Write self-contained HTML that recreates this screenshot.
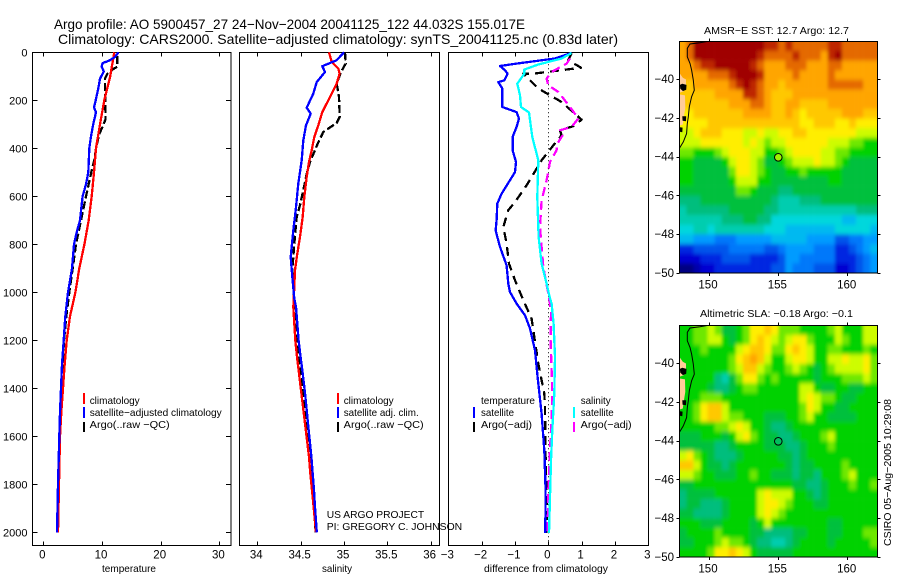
<!DOCTYPE html>
<html>
<head>
<meta charset="utf-8">
<title>Argo profile AO 5900457_27</title>
<style>
html,body{margin:0;padding:0;background:#fff;}
svg{display:block;}
text{font-family:"Liberation Sans",sans-serif;fill:#000;}
</style>
</head>
<body>
<svg id="fig" xmlns="http://www.w3.org/2000/svg" width="900" height="580" viewBox="0 0 900 580">
<defs>
<filter id="cell-smooth" filterUnits="userSpaceOnUse" x="660" y="20" width="240" height="560"><feGaussianBlur stdDeviation="1.7 2.2"/></filter>
<clipPath id="clip-sst"><rect x="679.3" y="41.3" width="198" height="231.7"/></clipPath>
<clipPath id="clip-sla"><rect x="679.3" y="325.3" width="198" height="231.7"/></clipPath>
</defs>
<rect width="900" height="580" fill="#fff"/>
<text x="54" y="29" font-size="14" textLength="471" lengthAdjust="spacingAndGlyphs">Argo profile: AO 5900457_27 24−Nov−2004 20041125_122 44.032S 155.017E</text>
<text x="58" y="44" font-size="14" textLength="560" lengthAdjust="spacingAndGlyphs">Climatology: CARS2000. Satellite−adjusted climatology: synTS_20041125.nc (0.83d later)</text>
<g id="layer-maps"></g>
<g id="layer-panels"></g>

<text x="102" y="572" font-size="10.5" textLength="54" lengthAdjust="spacingAndGlyphs">temperature</text>
<text x="322" y="572" font-size="10.5" textLength="30" lengthAdjust="spacingAndGlyphs">salinity</text>
<text x="484" y="572" font-size="10.5" textLength="124" lengthAdjust="spacingAndGlyphs">difference from climatology</text>

<g>
<rect x="83" y="393" width="2" height="11" fill="#f00"/>
<rect x="83" y="407" width="2" height="11" fill="#00f"/>
<rect x="83" y="422" width="2" height="10" fill="#000"/>
<text x="89.7" y="404" font-size="10.5" textLength="50" lengthAdjust="spacingAndGlyphs">climatology</text>
<text x="89.7" y="416" font-size="10.5" textLength="132" lengthAdjust="spacingAndGlyphs">satellite−adjusted climatology</text>
<text x="89.7" y="428" font-size="10.5" textLength="80" lengthAdjust="spacingAndGlyphs">Argo(..raw −QC)</text>
</g>

<g>
<rect x="337" y="393" width="2" height="11" fill="#f00"/>
<rect x="337" y="407" width="2" height="11" fill="#00f"/>
<rect x="337" y="422" width="2" height="10" fill="#000"/>
<text x="343.7" y="404" font-size="10.5" textLength="50" lengthAdjust="spacingAndGlyphs">climatology</text>
<text x="343.7" y="416" font-size="10.5" textLength="75" lengthAdjust="spacingAndGlyphs">satellite adj. clim.</text>
<text x="343.7" y="428" font-size="10.5" textLength="80" lengthAdjust="spacingAndGlyphs">Argo(..raw −QC)</text>
</g>

<text x="326.7" y="518" font-size="10.5" textLength="97.5" lengthAdjust="spacingAndGlyphs">US ARGO PROJECT</text>
<text x="326.7" y="530" font-size="10.5" textLength="135.5" lengthAdjust="spacingAndGlyphs">PI: GREGORY C. JOHNSON</text>

<g>
<text x="481" y="404" font-size="10.5" textLength="54" lengthAdjust="spacingAndGlyphs">temperature</text>
<rect x="473" y="407" width="2" height="11" fill="#00f"/>
<text x="481" y="416" font-size="10.5" textLength="33" lengthAdjust="spacingAndGlyphs">satellite</text>
<rect x="473" y="422" width="2" height="10" fill="#000"/>
<text x="481" y="428" font-size="10.5" textLength="51" lengthAdjust="spacingAndGlyphs">Argo(−adj)</text>
<text x="580.7" y="404" font-size="10.5" textLength="30" lengthAdjust="spacingAndGlyphs">salinity</text>
<rect x="573" y="407" width="2" height="11" fill="#0ff"/>
<text x="580.7" y="416" font-size="10.5" textLength="33" lengthAdjust="spacingAndGlyphs">satellite</text>
<rect x="573" y="422" width="2" height="10" fill="#f0f"/>
<text x="580.7" y="428" font-size="10.5" textLength="51" lengthAdjust="spacingAndGlyphs">Argo(−adj)</text>
</g>

<text x="704" y="34" font-size="10.5" textLength="145" lengthAdjust="spacingAndGlyphs">AMSR−E SST: 12.7 Argo: 12.7</text>
<text x="700" y="317" font-size="10.5" textLength="153" lengthAdjust="spacingAndGlyphs">Altimetric SLA: −0.18 Argo: −0.1</text>
<text transform="translate(891,546) rotate(-90)" font-size="10.5" textLength="147" lengthAdjust="spacingAndGlyphs">CSIRO 05−Aug−2005 10:29:08</text>
</svg>

<script>
var depthTicks = [0,200,400,600,800,1000,1200,1400,1600,1800,2000];
var tempTicks = [0,10,20,30];
var salTicks = [34,34.5,35,35.5,36];
var salTickLabels = ['34','34.5','35','35.5','36'];
var diffTicks = [-3,-2,-1,0,1,2,3];
var lonTicks = [150,155,160];
var latTicks = [-40,-42,-44,-46,-48,-50];

var tempClimDepth = [0,100,200,300,400,500,600,700,800,900,1000,1100,1200,1300,1400,1500,1600,1800,2000];
var tempClimValue = [12.1,11.4,10.4,9.66,8.98,8.64,8.24,7.73,7.0,6.14,5.46,4.55,3.98,3.64,3.36,3.07,2.85,2.67,2.5];
var tempSatDepth = [0,20,35,45,60,80,110,150,200,230,250,300,350,400,500,550,600,700,750,800,900,1000,1100,1200,1300,1400,1500,1600,1800,2000];
var tempSatValue = [12.8,12.2,11.2,10.1,9.95,10.3,9.66,9.37,8.92,8.64,8.98,8.5,8.13,7.84,7.67,7.27,6.7,6.25,5.69,5.23,4.89,4.2,3.75,3.47,3.19,3.02,2.84,2.73,2.5,2.33];
var tempArgoDepth = [15,60,70,90,110,200,280,310,340,400,450,500,600,700,800,900,1000,1100,1200,1400,1600,1800,2000];
var tempArgoValue = [12.6,12.6,11.9,10.9,10.5,10.56,10.6,10.1,9.54,8.98,8.69,8.18,7.27,6.42,5.57,5.0,4.43,3.92,3.53,3.07,2.73,2.62,2.45];

var salClimDepth = [0,40,68,89,130,200,249,304,353,408,457,519,603,686,769,839,908,978,1061,1130,1200,1269,1338,1408,1477,1547,1616,1686,1755,1825,1894,2000];
var salClimValue = [34.827,34.858,34.935,34.95,34.916,34.819,34.75,34.704,34.658,34.628,34.597,34.57,34.542,34.524,34.493,34.462,34.435,34.427,34.415,34.427,34.439,34.458,34.481,34.504,34.527,34.55,34.573,34.596,34.612,34.631,34.65,34.677];
var salSatDepth = [0,33,58,82,124,172,231,256,304,367,450,547,658,742,853,936,1026,1061,1130,1200,1269,1338,1408,1477,1547,1616,1686,1755,1825,1894,2000];
var salSatValue = [35.0,34.916,34.75,34.781,34.685,34.646,34.57,34.616,34.562,34.531,34.512,34.473,34.443,34.415,34.385,34.404,34.427,34.447,34.462,34.477,34.5,34.524,34.547,34.566,34.585,34.605,34.624,34.639,34.654,34.666,34.686];
var salArgoDepth = [0,47,82,130,186,269,294,332,381,457,506,575,637,686,797,908,1019,1130,1269,1408,1547,1686,1825,2000];
var salArgoValue = [35.012,35.02,34.966,34.916,34.943,34.951,34.916,34.762,34.697,34.608,34.57,34.531,34.493,34.455,34.427,34.404,34.423,34.439,34.481,34.527,34.57,34.608,34.643,34.673];

var diffTempSatDepth = [3,26,47,57,75,89,117,124,151,228,249,276,311,353,408,457,499,589,631,700,742,811,888,964,999,1047,1096,1151,1242,1353,1505,1658,1825,2003];
var diffTempSatValue = [0.7,0.2,-0.95,-1.45,-1.3,-1.22,-1.32,-1.5,-1.38,-1.38,-0.95,-0.88,-0.95,-1.07,-1.07,-0.97,-1.0,-1.4,-1.53,-1.55,-1.58,-1.45,-1.25,-1.2,-1.15,-0.95,-0.7,-0.55,-0.4,-0.32,-0.2,-0.12,-0.08,-0.09];
var diffSalSatDepth = [3,26,51,72,89,131,179,228,251,353,450,603,769,881,964,1026,1047,1131,1269,1422,1575,1700,1853,2003];
var diffSalSatValue = [0.7,0.4,-0.3,-0.72,-0.72,-0.93,-0.85,-0.82,-0.58,-0.48,-0.3,-0.33,-0.29,-0.2,-0.05,0.05,0.1,0.16,0.2,0.18,0.12,0.08,0.05,0.02];
var diffTempArgoDepth = [3,33,64,89,89,151,207,281,308,325,346,388,450,554,624,658,728,797,881,950,1033,1110,1186,1297,1422,1478,1686,1936,2003];
var diffTempArgoValue = [0.7,0.6,0.98,-0.45,-0.75,-0.3,0.4,1.0,0.75,0.35,0.4,0.15,-0.2,-0.65,-1.0,-1.2,-1.35,-1.25,-1.18,-1.0,-0.75,-0.5,-0.42,-0.3,-0.12,-0.1,-0.08,-0.04,-0.06];
var diffSalArgoDepth = [26,47,82,110,138,165,228,276,311,325,346,381,408,457,533,617,728,811,894,1006,1075,1200,1325,1436,1575,1686,1825,2003];
var diffSalArgoValue = [0.65,0.55,0.1,-0.05,0,0.3,0.65,0.9,0.7,0.35,0.43,0.27,0.25,0.05,-0.05,-0.2,-0.25,-0.2,-0.15,0,0.08,0.07,0.1,0.12,0.08,0.04,0,-0.02];

var sstGrid = [
[17,18,20,20,20,20,20,20,20,20,20,20,19,19,18,19,18,18,18,18,18,19,19,18,18,18,18,18],
[17,18,20,20,20,20,20,20,20,20,20,19,18,18,18,18,19,18,18,18,17,19,20,18,18,18,18,18],
[17,17,18,19,19,20,20,20,20,20,19,18,17,17,17,18,18,18,17,17,17,18,18,17,17,17,17,17],
[17,17,17,17,18,18,18,19,20,20,20,19,17,17,17,17,18,17,17,17,17,18,17,17,17,17,17,17],
[16,16,17,17,17,17,17,18,19,20,19,18,17,17,16,17,17,17,17,17,17,18,18,18,18,18,17,17],
[16,16,16,16,16,17,17,17,17,19,19,18,17,16,16,16,17,17,17,17,17,17,17,17,17,17,17,17],
[16,16,16,16,16,16,16,17,17,17,18,18,17,16,16,17,17,16,16,16,16,17,17,17,17,17,17,17],
[15,15,16,16,16,16,16,16,16,17,17,17,17,16,16,17,16,15,16,16,16,16,16,17,17,17,16,16],
[15,15,15,15,16,16,16,16,16,16,16,16,16,16,16,16,16,15,15,16,16,16,15,15,16,15,15,15],
[14,14,15,16,16,16,15,15,15,14,14,15,14,14,15,15,16,16,15,15,15,15,15,15,15,14,14,14],
[14,14,14,15,15,15,15,15,15,14,15,14,13,14,14,15,15,15,15,15,15,14,14,14,13,13,12,12],
[13,13,12,12,12,13,14,15,15,15,14,14,12,12,13,14,15,15,15,15,14,14,13,13,12,12,12,12],
[12,12,11,11,11,11,12,14,15,15,14,13,11,11,12,13,14,14,14,15,14,14,13,12,11,11,11,11],
[12,12,11,11,11,11,11,13,15,15,14,13,12,11,11,12,12,13,12,12,12,12,12,11,11,11,11,11],
[12,12,11,11,11,11,11,12,14,14,14,12,12,11,11,11,11,11,11,11,11,12,12,11,11,11,11,11],
[11,11,11,11,11,11,11,11,13,13,12,11,11,11,10,10,11,11,11,11,11,11,11,11,11,11,11,11],
[10,10,10,11,11,11,11,11,11,11,11,11,11,10,9,9,9,10,10,10,11,11,11,11,11,11,11,11],
[9,10,10,10,10,10,10,11,11,11,11,11,10,10,9,9,9,9,9,9,9,9,9,9,9,10,10,10],
[9,9,9,9,9,9,10,10,10,11,11,10,10,8,8,8,8,8,8,8,8,8,8,7,7,8,8,8],
[8,8,9,9,8,9,9,9,9,9,9,9,8,8,8,7,7,7,7,7,7,7,8,8,8,8,8,7],
[7,7,6,6,6,5,5,5,6,6,6,6,6,7,7,7,7,7,6,6,6,6,4,4,5,5,6,6],
[3,3,4,4,4,4,4,5,5,5,5,5,4,4,5,6,6,6,6,5,5,5,3,3,4,5,6,7],
[2,2,2,3,3,3,4,4,4,4,3,3,3,3,4,6,6,5,5,5,5,5,3,3,3,4,5,6],
[0,0,1,2,2,3,3,3,3,3,3,3,3,4,4,6,5,5,5,4,4,4,2,2,3,4,5,6]
];
var slaGrid = [
[12,12,13,13,14,13,11,11,12,13,15,15,16,15,13,13,13,12,12,12,12,13,14,12,12,12,14,14],
[12,12,13,13,14,14,12,11,12,13,15,16,15,14,13,14,15,15,13,12,12,12,14,13,12,12,14,14],
[12,12,12,13,12,12,12,12,14,15,16,16,15,13,13,15,16,15,14,12,12,13,13,12,12,12,13,12],
[12,12,12,12,12,12,12,13,15,16,17,16,14,12,12,14,15,15,14,12,12,14,14,15,14,14,15,13],
[12,12,12,12,12,12,12,13,14,16,16,14,13,12,12,13,14,13,12,11,12,13,14,14,14,14,15,13],
[12,12,12,12,12,10,9,11,13,15,15,13,12,13,12,12,12,12,12,11,12,12,12,13,13,13,14,13],
[12,12,12,12,11,10,10,11,12,13,13,12,12,12,12,12,12,14,14,12,11,11,12,12,11,11,12,12],
[12,12,12,13,13,13,12,12,12,12,12,12,12,12,12,12,12,14,15,14,13,13,12,11,11,12,12,12],
[12,12,13,15,16,16,14,12,12,12,12,12,12,12,12,12,12,13,15,14,12,12,11,11,12,12,12,12],
[12,12,13,15,16,16,14,13,13,12,12,12,11,11,11,12,12,13,14,12,12,11,11,11,11,12,12,12],
[12,12,12,12,12,13,13,14,15,14,12,12,11,10,10,11,12,12,12,12,12,12,12,12,12,12,12,12],
[11,11,11,12,12,12,11,12,14,15,13,12,11,11,10,10,11,12,12,12,13,14,12,12,12,12,12,12],
[11,11,11,11,11,10,10,11,12,12,12,12,11,11,11,10,10,11,12,12,12,13,12,12,12,12,12,12],
[14,15,13,12,11,10,10,10,11,12,12,12,12,12,11,11,10,11,12,12,12,12,12,12,12,12,12,12],
[16,16,14,12,11,11,10,11,12,12,12,12,12,12,12,11,10,11,11,12,12,12,12,13,12,12,12,12],
[14,14,13,12,12,11,11,11,12,12,13,12,12,11,11,11,10,11,11,10,12,12,12,13,14,12,12,12],
[11,11,12,12,12,12,12,12,12,12,12,12,12,12,12,12,11,11,10,10,11,12,12,12,13,12,12,13],
[10,11,11,11,11,12,12,12,12,12,12,14,15,14,14,14,12,12,11,10,11,12,12,12,12,12,12,12],
[10,11,11,10,10,10,11,12,12,12,12,14,15,15,14,13,12,12,12,11,11,12,12,12,12,12,12,12],
[11,11,10,10,10,10,11,12,12,12,12,14,15,14,13,12,12,12,12,12,12,12,12,12,12,12,12,12],
[12,12,12,11,11,11,12,12,12,12,11,12,14,12,12,12,12,12,12,12,12,11,11,12,12,12,12,12],
[11,12,12,12,12,13,12,12,12,12,11,11,10,10,10,10,11,11,12,12,12,11,11,12,12,12,13,13],
[11,11,12,12,12,13,14,13,13,12,11,10,10,9,9,10,11,12,12,12,12,11,12,12,12,12,12,13],
[12,12,12,12,13,15,15,16,15,14,12,11,11,11,11,11,12,12,12,12,12,12,12,12,12,12,12,12]
];
var coastLon = [149.97,149.37,148.65,148.46,148.46,148.65,148.77,148.89,148.96,148.77,148.6,148.53,148.46,148.41,148.17,147.88];
var coastLat = [-38.05,-38.12,-38.19,-38.41,-38.85,-39.19,-39.53,-40.05,-40.57,-40.91,-41.43,-41.95,-42.29,-42.81,-43.24,-43.58];
var landNorthLon = [147.88,148.13,148.36,148.36,148.22,147.88];
var landNorthLat = [-39.67,-39.93,-40.02,-40.36,-40.62,-40.71];
var landSouthLon = [147.88,148.29,148.31,148.22,148.13,147.88];
var landSouthLat = [-40.79,-40.84,-41.48,-41.91,-42.34,-42.4];
var rockALon = [147.92,148.1,148.4,148.38,148.15,147.95];
var rockALat = [-40.3,-40.24,-40.3,-40.55,-40.62,-40.5];
var rockBLon = [148.1,148.38,148.36,148.12];
var rockBLat = [-41.92,-41.92,-42.17,-42.15];
var rockCLon = [147.92,148.12,148.1,147.92];
var rockCLat = [-42.48,-42.5,-42.74,-42.72];
var floatLon = 155.017;
var floatLat = -44.032;

var SVGNS = 'http://www.w3.org/2000/svg';
var panelTop = 52.3, panelBottom = 545.3;
function yDepth(d){ return 52.3 + d * 0.24; }
function xTemp(t){ return 43.3 + t * 5.87; }
function xSal(s){ return 257.3 + (s - 34) * 86.67; }
function xDiff(v){ return 548.3 + v * 33.33; }

var palette = [[0,0,130],[0,0,170],[0,0,210],[0,40,225],[0,85,235],[0,120,250],[0,155,255],[0,185,240],[0,215,220],[0,205,175],[0,190,125],[0,192,60],[0,210,0],[110,232,0],[205,252,0],[255,238,0],[255,200,0],[255,165,0],[228,105,0],[190,40,0],[160,0,0]];
function levelColor(v){
  var i = Math.max(0, Math.min(palette.length - 1, Math.floor(v)));
  var j = Math.min(palette.length - 1, i + 1);
  var f = Math.max(0, Math.min(1, v - i));
  var c = [0,1,2].map(function(k){ return Math.round(palette[i][k] + (palette[j][k] - palette[i][k]) * f); });
  return 'rgb(' + c.join(',') + ')';
}

function mk(parent, tag, attrs){
  var el = document.createElementNS(SVGNS, tag);
  for (var k in attrs) el.setAttribute(k, attrs[k]);
  parent.appendChild(el);
  return el;
}

function polyPoints(xs, ys, fx, fy){
  var pts = [];
  for (var i = 0; i < xs.length; i++) pts.push(fx(xs[i]).toFixed(1) + ',' + fy(ys[i]).toFixed(1));
  return pts.join(' ');
}

function drawSeries(g, name, depths, values, fx, color, dash){
  var attrs = {points: polyPoints(values, depths, fx, yDepth), fill: 'none', stroke: color, 'stroke-width': 2.3, 'stroke-linejoin': 'round', 'shape-rendering': 'crispEdges'};
  if (dash) attrs['stroke-dasharray'] = dash;
  var el = mk(g, 'polyline', attrs);
  
  
}

function drawPanel(name, left, right, xTicks, xLabels, fx, showDepth){
  var root = document.getElementById('layer-panels');
  var g = mk(root, 'g', {});
  
  
  var frame = mk(g, 'rect', {x: left, y: panelTop, width: right - left, height: panelBottom - panelTop, fill: 'none', stroke: '#000', 'stroke-width': 1, 'shape-rendering': 'crispEdges'});
  
  
  xTicks.forEach(function(t, i){
    var x = Math.round(fx(t)) + 0.5;
    var tt = mk(g, 'line', {x1: x, x2: x, y1: panelTop, y2: panelTop + 4, stroke: '#000', 'shape-rendering': 'crispEdges'});
    
    
    var tb = mk(g, 'line', {x1: x, x2: x, y1: panelBottom, y2: panelBottom - 4, stroke: '#000', 'shape-rendering': 'crispEdges'});
    
    
    var lab = mk(g, 'text', {x: fx(t) - 1, y: 558.5, 'font-size': 11.5, 'text-anchor': 'middle'});
    lab.textContent = xLabels[i];
    
    
  });
  if (showDepth) {
    depthTicks.forEach(function(d){
      var y = Math.round(yDepth(d)) + 0.5;
      var a = mk(g, 'line', {x1: left, x2: left + 5, y1: y, y2: y, stroke: '#000', 'shape-rendering': 'crispEdges'});
      
      
      var b = mk(g, 'line', {x1: right, x2: right - 5, y1: y, y2: y, stroke: '#000', 'shape-rendering': 'crispEdges'});
      
      
      var lab = mk(g, 'text', {x: 27.5, y: yDepth(d) + 4, 'font-size': 11, 'text-anchor': 'end'});
      lab.textContent = String(d);
      
      
    });
  }
  return g;
}

function drawMap(name, grid, top, bottom, markerFill, clipId){
  var left = 679.3, right = 877.3;
  var lonScale = 13.87, latScale = (bottom - top) / 11.95;
  function fx(lon){ return 708.7 + (lon - 150) * lonScale; }
  function fy(lat){ return top + (-38.05 - lat) * latScale; }
  var root = document.getElementById('layer-maps');
  var g = mk(root, 'g', {});
  
  
  var clip = mk(g, 'g', {'clip-path': 'url(#' + clipId + ')'});
  
  
  var blur = mk(clip, 'g', {filter: 'url(#cell-smooth)'});
  
  
  var rows = grid.length, cols = grid[0].length;
  var cw = (right - left) / cols, ch = (bottom - top) / rows;
  var bleed = 8;
  grid.forEach(function(row, r){
    row.forEach(function(v, c){
      var x0 = left + c * cw - (c === 0 ? bleed : 0);
      var x1 = left + (c + 1) * cw + (c === cols - 1 ? bleed : 0.3);
      var y0 = top + r * ch - (r === 0 ? bleed : 0);
      var y1 = top + (r + 1) * ch + (r === rows - 1 ? bleed : 0.3);
      var cell = mk(blur, 'rect', {x: x0.toFixed(2), y: y0.toFixed(2), width: (x1 - x0).toFixed(2), height: (y1 - y0).toFixed(2), fill: levelColor(v)});
      
      
    });
  });
  var lN = mk(clip, 'polygon', {points: polyPoints(landNorthLon, landNorthLat, fx, fy), fill: '#ffcc99'});
  
  
  var lS = mk(clip, 'polygon', {points: polyPoints(landSouthLon, landSouthLat, fx, fy), fill: '#ffcc99'});
  
  
  var rA = mk(clip, 'polygon', {points: polyPoints(rockALon, rockALat, fx, fy), fill: '#000'});
  
  
  var rB = mk(clip, 'polygon', {points: polyPoints(rockBLon, rockBLat, fx, fy), fill: '#000'});
  
  
  var rC = mk(clip, 'polygon', {points: polyPoints(rockCLon, rockCLat, fx, fy), fill: '#000'});
  
  
  var coast = mk(clip, 'polyline', {points: polyPoints(coastLon, coastLat, fx, fy), fill: 'none', stroke: '#000', 'stroke-width': 1});
  
  
  var frame = mk(g, 'rect', {x: left, y: top, width: right - left, height: bottom - top, fill: 'none', stroke: '#000', 'stroke-width': 1, 'shape-rendering': 'crispEdges'});
  
  
  lonTicks.forEach(function(lon){
    var x = Math.round(fx(lon)) + 0.5;
    var t1 = mk(g, 'line', {x1: x, x2: x, y1: top, y2: top - 3, stroke: '#000', 'shape-rendering': 'crispEdges'});
    
    
    var t2 = mk(g, 'line', {x1: x, x2: x, y1: bottom, y2: bottom + 3, stroke: '#000', 'shape-rendering': 'crispEdges'});
    
    
    var lab = mk(g, 'text', {x: fx(lon) - 0.7, y: bottom + 15.3, 'font-size': 11.5, 'text-anchor': 'middle'});
    lab.textContent = String(lon);
    
    
  });
  latTicks.forEach(function(lat){
    var y = Math.round(fy(lat)) + 0.5;
    var t1 = mk(g, 'line', {x1: left, x2: left - 3, y1: y, y2: y, stroke: '#000', 'shape-rendering': 'crispEdges'});
    
    
    var t2 = mk(g, 'line', {x1: right, x2: right + 3, y1: y, y2: y, stroke: '#000', 'shape-rendering': 'crispEdges'});
    
    
    var lab = mk(g, 'text', {x: 674, y: fy(lat) + 4, 'font-size': 11.5, 'text-anchor': 'end'});
    lab.textContent = String(lat).replace('-', '\u2212');
    
    
  });
  var mark = mk(g, 'circle', {cx: fx(floatLon), cy: fy(floatLat), r: 3.8, fill: markerFill, stroke: '#000', 'stroke-width': 1});
  
  
}

drawMap('sst-map', sstGrid, 41.3, 273, levelColor(13.5), 'clip-sst');
drawMap('sla-map', slaGrid, 325.3, 557, levelColor(10.5), 'clip-sla');

var p1 = drawPanel('temperature-panel', 32.3, 231, tempTicks, tempTicks.map(String), xTemp, true);
drawSeries(p1, 'temperature-argo-line', tempArgoDepth, tempArgoValue, xTemp, '#000', '8 3');
drawSeries(p1, 'temperature-climatology-line', tempClimDepth, tempClimValue, xTemp, '#f00');
drawSeries(p1, 'temperature-satellite-line', tempSatDepth, tempSatValue, xTemp, '#00f');

var p2 = drawPanel('salinity-panel', 239.3, 439.3, salTicks, salTickLabels, xSal, false);
drawSeries(p2, 'salinity-argo-line', salArgoDepth, salArgoValue, xSal, '#000', '8 3');
drawSeries(p2, 'salinity-climatology-line', salClimDepth, salClimValue, xSal, '#f00');
drawSeries(p2, 'salinity-satellite-line', salSatDepth, salSatValue, xSal, '#00f');

var p3 = drawPanel('difference-panel', 448.3, 648.3, diffTicks, diffTicks.map(function(v){ return String(v).replace('-', '\u2212'); }), xDiff, false);
var zero = mk(p3, 'line', {x1: 548.5, x2: 548.5, y1: panelTop, y2: panelBottom, stroke: '#000', 'stroke-width': 1, 'stroke-dasharray': '1 3'});


drawSeries(p3, 'difference-temperature-argo-line', diffTempArgoDepth, diffTempArgoValue, xDiff, '#000', '9 6');
drawSeries(p3, 'difference-salinity-argo-line', diffSalArgoDepth, diffSalArgoValue, xDiff, '#f0f', '9 5');
drawSeries(p3, 'difference-temperature-satellite-line', diffTempSatDepth, diffTempSatValue, xDiff, '#00f');
drawSeries(p3, 'difference-salinity-satellite-line', diffSalSatDepth, diffSalSatValue, xDiff, '#0ff');
</script>
</body>
</html>
